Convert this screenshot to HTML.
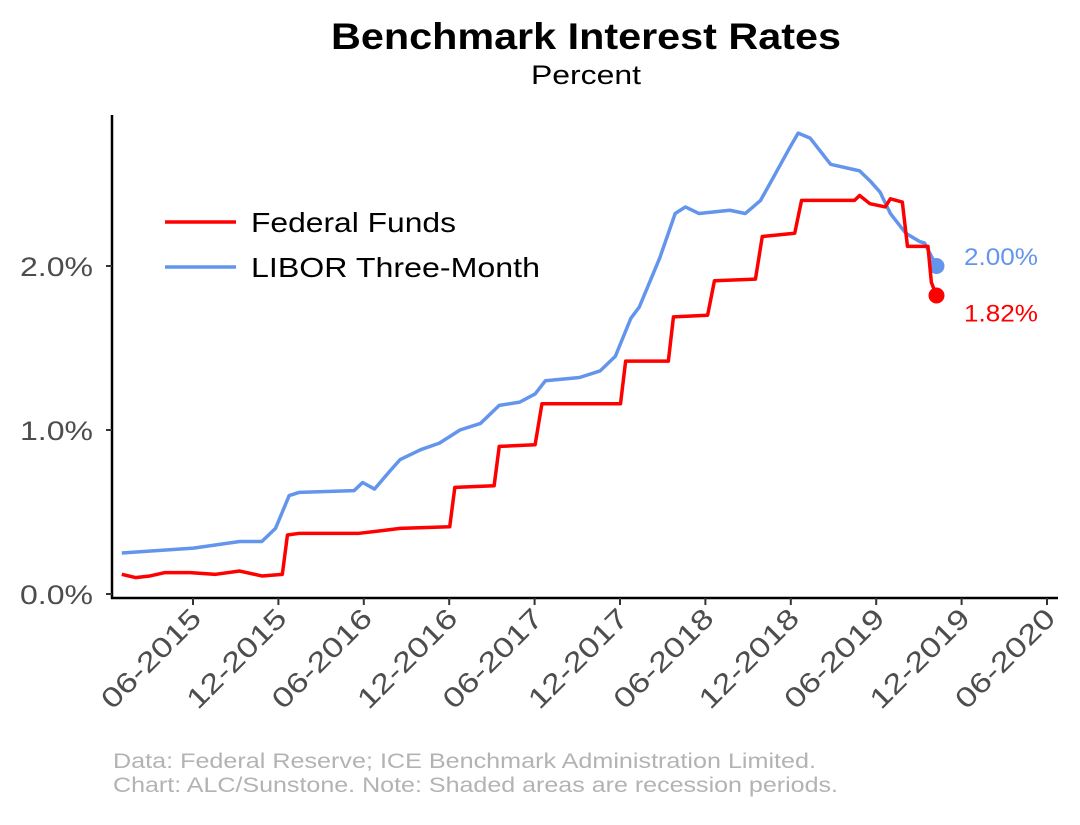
<!DOCTYPE html>
<html><head><meta charset="utf-8"><style>
body{margin:0;background:#fff;}
svg text{font-family:"Liberation Sans",Arial,sans-serif;}
</style></head><body>
<svg id="chart" width="1080" height="820" viewBox="0 0 1080 820" xmlns="http://www.w3.org/2000/svg">
<rect width="1080" height="820" fill="#fff"/>
<text x="331" y="49" font-size="37" font-weight="bold" fill="#000" textLength="510" lengthAdjust="spacingAndGlyphs">Benchmark Interest Rates</text>
<text x="531" y="84" font-size="27" fill="#000" textLength="110" lengthAdjust="spacingAndGlyphs">Percent</text>
<g id="axes"></g>
<g id="series"></g>
<g>
<line x1="165" y1="222" x2="236" y2="222" stroke="#ff0000" stroke-width="3.5"/>
<text x="251" y="232" font-size="28" fill="#000" textLength="205" lengthAdjust="spacingAndGlyphs">Federal Funds</text>
<line x1="165" y1="267" x2="236" y2="267" stroke="#6495ed" stroke-width="3.5"/>
<text x="251" y="277" font-size="28" fill="#000" textLength="289" lengthAdjust="spacingAndGlyphs">LIBOR Three-Month</text>
</g>
<text x="113" y="768" font-size="21" fill="#b3b3b3" textLength="703" lengthAdjust="spacingAndGlyphs">Data: Federal Reserve; ICE Benchmark Administration Limited.</text>
<text x="113" y="792" font-size="21" fill="#b3b3b3" textLength="725" lengthAdjust="spacingAndGlyphs">Chart: ALC/Sunstone. Note: Shaded areas are recession periods.</text>
</svg>
<script>
const yTicks=[0,1,2];
const yTickLabels=["0.0%","1.0%","2.0%"];
const xTicks=[2015.417,2015.917,2016.417,2016.917,2017.417,2017.917,2018.417,2018.917,2019.417,2019.917,2020.417];
const xTickLabels=["06-2015","12-2015","06-2016","12-2016","06-2017","12-2017","06-2018","12-2018","06-2019","12-2019","06-2020"];
const fedDates=[2015.0,2015.08,2015.165,2015.25,2015.40,2015.55,2015.69,2015.82,2015.94,2015.97,2016.04,2016.39,2016.63,2016.92,2016.95,2017.18,2017.21,2017.42,2017.46,2017.92,2017.95,2018.20,2018.23,2018.43,2018.47,2018.71,2018.75,2018.94,2018.98,2019.29,2019.32,2019.38,2019.47,2019.50,2019.57,2019.60,2019.72,2019.74,2019.77];
const fedValues=[0.12,0.10,0.11,0.13,0.13,0.12,0.14,0.11,0.12,0.36,0.37,0.37,0.40,0.41,0.65,0.66,0.90,0.91,1.16,1.16,1.42,1.42,1.69,1.70,1.91,1.92,2.18,2.20,2.40,2.40,2.43,2.38,2.36,2.41,2.39,2.12,2.12,1.90,1.82];
const liborDates=[2015.0,2015.42,2015.69,2015.82,2015.90,2015.98,2016.04,2016.36,2016.41,2016.48,2016.57,2016.63,2016.75,2016.86,2016.98,2017.10,2017.21,2017.33,2017.42,2017.48,2017.68,2017.80,2017.89,2017.98,2018.03,2018.15,2018.24,2018.30,2018.38,2018.56,2018.65,2018.74,2018.82,2018.91,2018.96,2019.03,2019.15,2019.32,2019.38,2019.44,2019.50,2019.59,2019.67,2019.70,2019.73,2019.77];
const liborValues=[0.25,0.28,0.32,0.32,0.40,0.60,0.62,0.63,0.68,0.64,0.75,0.82,0.88,0.92,1.00,1.04,1.15,1.17,1.22,1.30,1.32,1.36,1.45,1.68,1.75,2.05,2.32,2.36,2.32,2.34,2.32,2.40,2.55,2.72,2.81,2.78,2.62,2.58,2.52,2.45,2.32,2.20,2.15,2.14,2.08,2.00];

const NS="http://www.w3.org/2000/svg";
const xS=v=>193+(v-2015.417)*170.8;
const yS=v=>594-v*164;
function mk(tag,attrs,parent){const e=document.createElementNS(NS,tag);for(const k in attrs)e.setAttribute(k,attrs[k]);parent.appendChild(e);return e;}
const axes=document.getElementById('axes');
const ya=mk('line',{x1:112,y1:115,x2:112,y2:599,stroke:'#000','stroke-width':2.5},axes);


const xa=mk('line',{x1:111,y1:598,x2:1058,y2:598,stroke:'#000','stroke-width':2.5},axes);


yTicks.forEach((t,i)=>{
  const tk=mk('line',{x1:106,y1:yS(t),x2:112,y2:yS(t),stroke:'#333','stroke-width':2},axes);
  
  
  const tl=mk('text',{x:20,y:yS(t)+10,'font-size':27,fill:'#4d4d4d',textLength:73,lengthAdjust:'spacingAndGlyphs'},axes);
  tl.textContent=yTickLabels[i];
  
  
});
xTicks.forEach((t,i)=>{
  const x=xS(t);
  const tk=mk('line',{x1:x,y1:598,x2:x,y2:605,stroke:'#333','stroke-width':2},axes);
  
  
  const tl=mk('text',{x:x+10,y:620,'text-anchor':'end','font-size':28,fill:'#4d4d4d',textLength:128,lengthAdjust:'spacingAndGlyphs',transform:`rotate(-45 ${x+10} 620)`},axes);
  tl.textContent=xTickLabels[i];
  
  
});
const ser=document.getElementById('series');
function line(d,v,color,name){
  const p=mk('polyline',{points:d.map((t,i)=>xS(t)+','+yS(v[i])).join(' '),fill:'none',stroke:color,'stroke-width':3.5,'stroke-linejoin':'round'},ser);
  
  
  const n=d.length-1;
  const c=mk('circle',{cx:xS(d[n]),cy:yS(v[n]),r:8,fill:color},ser);
  
  
  const lb=mk('text',{x:964,y:0,'font-size':24,fill:color,textLength:74,lengthAdjust:'spacingAndGlyphs'},ser);
  lb.textContent=v[n].toFixed(2)+'%';
  
  
  return lb;
}
const l1=line(liborDates,liborValues,'#6495ed','libor-line');
const l2=line(fedDates,fedValues,'#ff0000','fed-funds-line');
l1.setAttribute('y',yS(liborValues[liborValues.length-1])-1);
l2.setAttribute('y',yS(fedValues[fedValues.length-1])+26);
</script>
</body></html>
